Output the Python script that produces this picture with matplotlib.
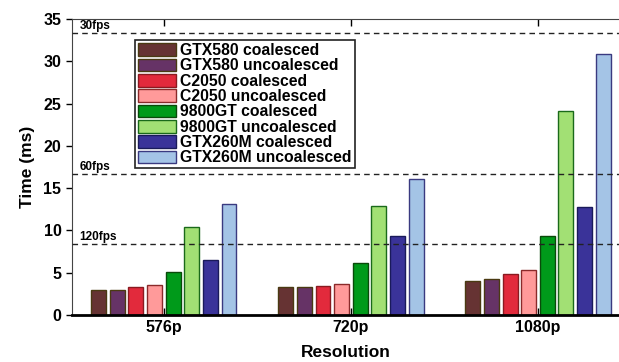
import numpy as np
import matplotlib.pyplot as plt

plt.rcParams['font.family'] = ['Liberation Sans', 'DejaVu Sans']
plt.rcParams['font.weight'] = 'bold'

resolutions = ["576p", "720p", "1080p"]
series = ["GTX580 coalesced", "GTX580 uncoalesced", "C2050 coalesced", "C2050 uncoalesced",
          "9800GT coalesced", "9800GT uncoalesced", "GTX260M coalesced", "GTX260M uncoalesced"]
gtx580_c = [3.0, 3.25, 3.96]
gtx580_u = [3.0, 3.33, 4.2]
c2050_c = [3.25, 3.41, 4.82]
c2050_u = [3.49, 3.69, 5.26]
gt9800_c = [5.02, 6.1, 9.37]
gt9800_u = [10.4, 12.86, 24.1]
gtx260m_c = [6.55, 9.37, 12.82]
gtx260m_u = [13.1, 16.1, 30.9]
values = [gtx580_c, gtx580_u, c2050_c, c2050_u, gt9800_c, gt9800_u, gtx260m_c, gtx260m_u]

fills = ["#663333", "#663366", "#e22a3c", "#ff9a9a", "#009a1a", "#a2e074", "#3a3399", "#a4c4e6"]
edges = ["#4a3a12", "#4a3a12", "#8a1a20", "#8a2a2a", "#0a4a0a", "#1a6a1a", "#1a1a5a", "#3a3a80"]

fps_levels = [1000/30, 1000/60, 1000/120]
fps_labels = ["30fps", "60fps", "120fps"]

fig = plt.figure(figsize=(6.19, 3.62), dpi=100)
ax = fig.add_axes([0.116, 0.130, 0.884, 0.8175])

x = np.arange(len(resolutions))
pitch = 0.0995
for i, (vals, name) in enumerate(zip(values, series)):
    ax.bar(x + (i - 3.5)*pitch, vals, width=0.08, color=fills[i], edgecolor=edges[i],
           linewidth=1.0, label=name, zorder=2)

for lvl, lab in zip(fps_levels, fps_labels):
    ax.axhline(lvl, color="#222222", linestyle=(0, (4, 3)), linewidth=1.0, zorder=3)
    ax.text(-0.45, lvl + 0.15, lab, fontsize=8.5, fontweight='bold', va='bottom', ha='left')

ax.set_xlim(-0.492, 2.433)
ax.set_ylim(0, 35)
ax.set_xticks(x)
ax.set_xticklabels(resolutions, fontsize=11.5, fontweight='bold')
ax.set_yticks(range(0, 36, 5))
ax.tick_params(axis='y', labelsize=11.5, direction='out', length=4, width=1)
ax.tick_params(axis='x', direction='in', top=True, length=5, width=1, pad=4)
ax.spines['right'].set_visible(False)
ax.spines['bottom'].set_linewidth(2.0)
ax.spines['top'].set_color('#444444')
ax.spines['left'].set_color('#444444')
ax.set_xlabel("Resolution", fontsize=12.5, fontweight='bold', labelpad=7)
ax.set_ylabel("Time (ms)", fontsize=12.5, fontweight='bold', labelpad=6)

leg = ax.legend(loc='upper left', bbox_to_anchor=(0.115, 0.929), borderaxespad=0,
                fancybox=False, framealpha=1, edgecolor='#222222',
                labelspacing=0.02, handlelength=2.4, handleheight=0.85, handletextpad=0.3,
                borderpad=0.2, prop={'weight': 'bold', 'size': 11.3})
leg.get_frame().set_linewidth(1.2)
leg.set_zorder(5)

fig.savefig("out.png", dpi=100)
